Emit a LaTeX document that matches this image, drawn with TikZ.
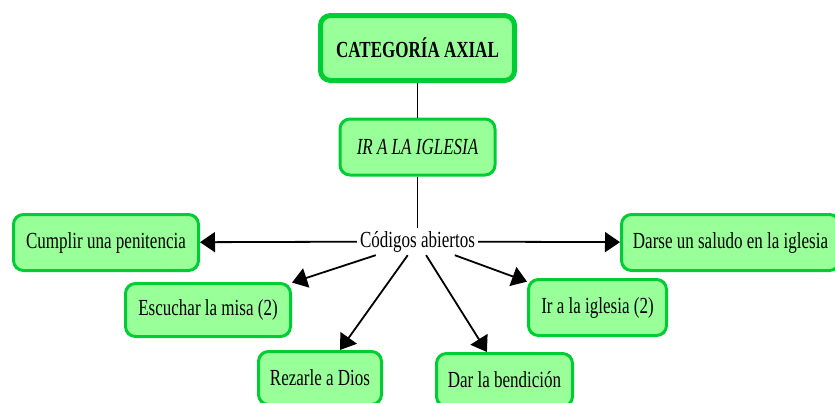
\documentclass[tikz,border=0pt]{standalone}
\usepackage{fontspec}
\setmainfont[FakeStretch=0.74]{Liberation Serif}
\usetikzlibrary{arrows.meta, positioning}
\definecolor{boxfill}{RGB}{153,255,153}
\definecolor{boxline}{RGB}{0,204,51}
\newcommand{\mapfont}{\fontsize{23}{27}\selectfont}
\tikzset{
  code/.style={draw=boxline, fill=boxfill, rounded corners=10pt, line width=3pt,
    inner sep=0pt, align=center}, % boxes of the codes
  axial/.style={code, line width=5pt, font=\mapfont\bfseries},
  link/.style={line width=1.8pt, draw=black},
  tip/.style={link, -{Triangle[length=15pt,width=20pt]}},
}

\begin{document}
\begin{tikzpicture}[x=1pt, y=-1pt, font=\mapfont, node distance=99pt]
    \useasboundingbox (0,0) rectangle (835,402);
    \clip (0,0) rectangle (835,402);

    \node[axial, minimum width=194pt, minimum height=65pt] (cat) at (417.5,48) {CATEGORÍA AXIAL};
    \node[code, below of=cat, minimum width=155pt, minimum height=56pt] (ir) {\itshape IR A LA IGLESIA};
    \node[below of=ir, node distance=94.5pt, inner sep=3pt] (cod) {Códigos abiertos};

    \node[code, minimum width=185pt, minimum height=56pt] (cump) at (106,242.5) {Cumplir una penitencia};
    \node[code, minimum width=165pt, minimum height=53pt] (esc) at (208,310) {Escuchar la misa (2)};
    \node[code, minimum width=123pt, minimum height=53pt] (rez) at (320,378) {Rezarle a Dios};
    \node[code, minimum width=136pt, minimum height=53pt] (dar) at (504.5,380) {Dar la bendición};
    \node[code, minimum width=138pt, minimum height=56pt] (ira) at (597.5,307.5) {Ir a la iglesia (2)};
    \node[code, minimum width=218pt, minimum height=56pt] (darse) at (730.5,242.5) {Darse un saludo en la iglesia};

    \draw[link] (cat) -- (ir) (ir) -- (cod);

    \draw
    (cod) edge[tip] (cump)
    (cod) edge[tip] (esc)
    (cod) edge[tip] (rez)
    (cod) edge[tip] (dar)
    (cod) edge[tip] (ira)
    (cod) edge[tip] (darse)
    ;

  \end{tikzpicture}
\end{document}
